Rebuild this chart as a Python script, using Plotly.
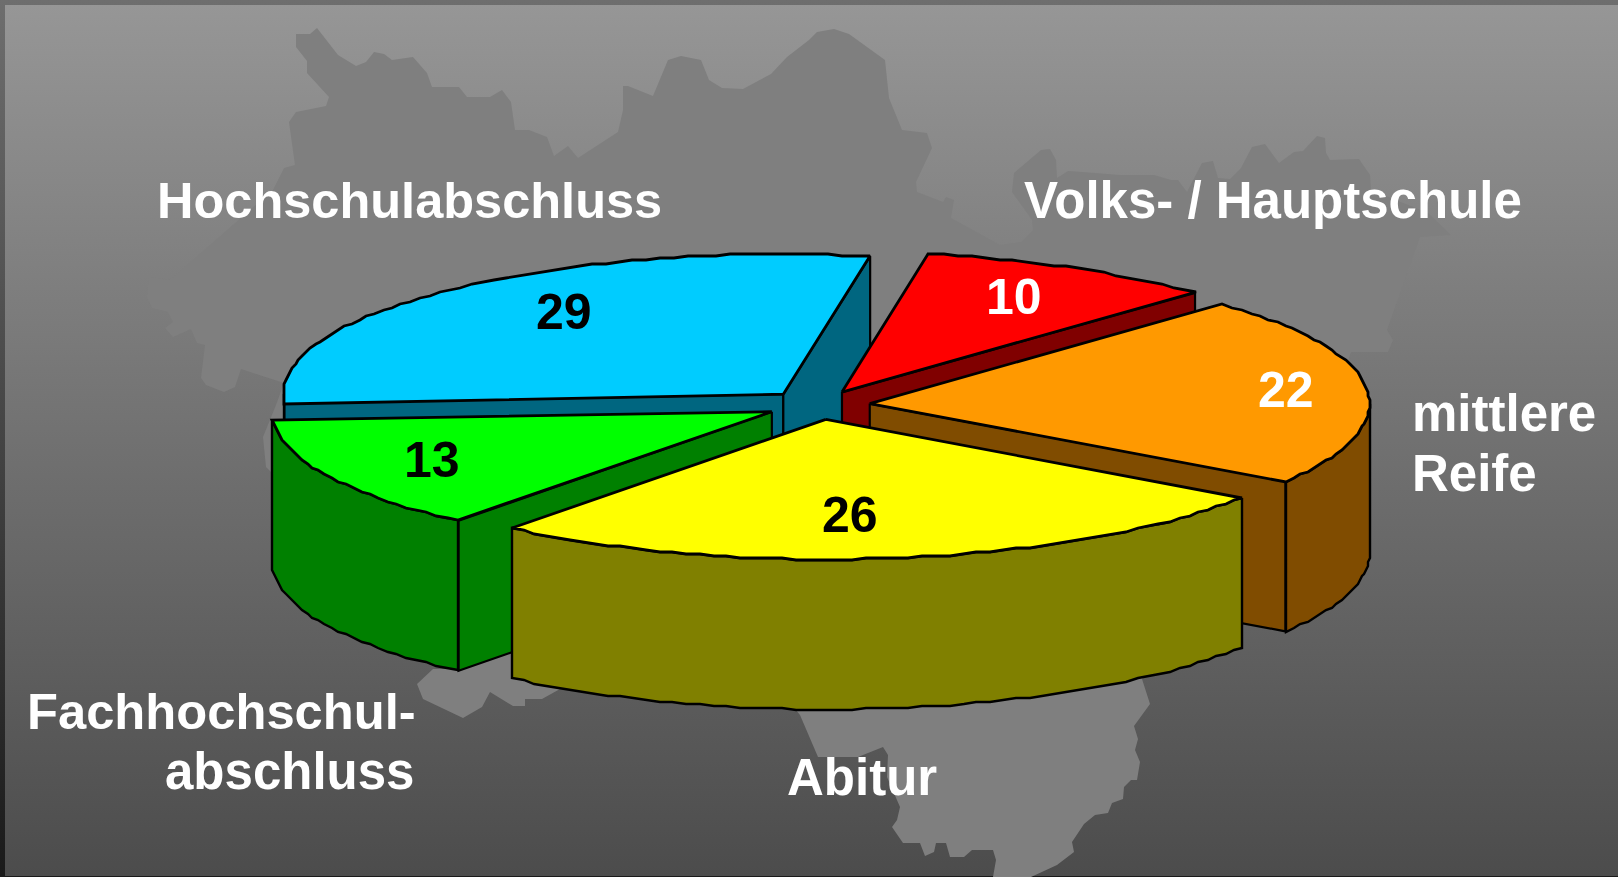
import math
import plotly.graph_objects as go

# ---- data -------------------------------------------------------------
categories = ["Volks- / Hauptschule", "mittlere Reife", "Abitur", "Fachhochschulabschluss", "Hochschulabschluss"]
value_labels = [10, 22, 26, 13, 29]
# slice shares (they round to the printed labels)
shares = [9.7, 21.9, 26.4, 13.2, 28.8]
top_colors = ["#FF0000", "#FF9900", "#FFFF00", "#00FF00", "#00CCFF"]
wall_colors = ["#800000", "#804C00", "#808000", "#008000", "#006680"]
value_colors = ["white", "white", "black", "black", "black"]

# ---- pie projection ---------------------------------------------------
W, H = 1618, 877
CX, CY, RX, RY, DEPTH = 818, 405, 500, 140, 150
EXPLODE = 0.104
START_DEG = -80
DRAW_ORDER = [4, 0, 1, 3, 2]
STEP = 2.0
VALUE_POS = [(1014, 297), (1286, 390), (850, 515), (432, 460), (564, 312)]

# ---- backdrop outline (decorative map silhouette) ----------------------
map_x = [317,338,356,366,374,384,392,413,427,432,459,467,490,502,511,515,529,547,554,568,578,618,623,623,628,653,668,681,701,709,722,743,771,787,809,817,834,849,885,889,902,927,932,916,917,943,946,954,951,986,1000,1021,1033,1032,1012,1014,1041,1050,1056,1057,1068,1082,1120,1154,1171,1178,1187,1202,1213,1218,1230,1241,1252,1265,1279,1294,1303,1317,1325,1326,1330,1359,1370,1371,1428,1451,1420,1387,1393,1388,1351,1300,1142,1150,1134,1138,1135,1140,1137,1131,1124,1123,1112,1108,1095,1084,1072,1074,1057,1031,993,996,993,972,964,950,946,936,934,925,920,903,892,897,900,887,888,883,858,818,800,780,560,542,525,525,513,490,482,463,423,417,433,454,400,266,263,276,284,241,235,224,206,201,205,197,191,173,165,173,168,152,147,149,170,273,284,295,289,296,326,329,307,307,296,296,310]
map_y = [28,55,66,62,52,54,60,57,73,87,87,97,97,90,102,130,130,137,156,146,158,132,110,86,86,96,60,56,60,80,88,89,74,57,40,32,29,34,60,98,130,133,148,182,192,202,197,200,218,237,245,242,230,220,192,173,150,149,160,178,171,172,175,175,180,180,192,163,161,178,179,168,147,144,163,152,151,136,138,153,160,159,175,190,213,235,237,330,340,352,352,500,679,704,726,739,750,762,780,780,787,799,803,813,815,824,842,852,865,877,877,860,850,850,857,857,843,843,852,856,843,843,827,820,807,777,755,747,757,757,715,690,689,699,699,706,706,692,707,718,699,684,669,669,600,467,437,405,383,369,387,392,385,378,345,343,329,337,328,322,312,308,297,277,280,190,168,165,122,112,106,97,73,61,47,34,34]

# ---- text --------------------------------------------------------------
outer_labels = ["Hochschulabschluss", "Volks- / Hauptschule", "mittlere", "Reife", "Fachhochschul-", "abschluss", "Abitur"]
outer_sizes = [50.5, 51, 51, 51, 50.7, 51, 51]
outer_pos = [(155, 200, "left"), (1022, 200, "left"), (1410, 413, "left"), (1410, 473, "left"),
             (25, 711, "left"), (416, 771, "right"), (785, 777, "left")]


def snap(v):
    return round(v / STEP) * STEP


def ell(cx, cy, t, dz=0.0):
    x = cx + RX * math.cos(t)
    y = cy + RY * math.sin(t)
    return snap(x), snap(y) + dz


fig = go.Figure()


def backdrop(x0, y0, x1, y1, low, high):
    fig.add_trace(go.Scatter(x=[x0, x1, x1, x0, x0], y=[y0, y0, y1, y1, y0], mode="lines", fill="toself",
                             line=dict(width=0), hoverinfo="skip", showlegend=False,
                             fillgradient=dict(type="vertical", colorscale=[[0, low], [1, high]])))


backdrop(0, 0, W, H, "#1a1a1a", "#6e6e6e")
backdrop(5, 5, W, H - 1, "#4c4c4c", "#969696")
fig.add_trace(go.Scatter(x=map_x + map_x[:1], y=map_y + map_y[:1], mode="lines", fill="toself",
                         fillcolor="#7f7f7f", line=dict(width=0), hoverinfo="skip", showlegend=False))


def poly(xs, ys, color, name, lw):
    fig.add_trace(go.Scatter(x=xs + xs[:1], y=ys + ys[:1], mode="lines", fill="toself", fillcolor=color,
                             line=dict(color="black", width=lw), name=name,
                             hoverinfo="skip", showlegend=False))


# slices from the shares
total = sum(shares)
angles = [math.radians(START_DEG)]
for v in shares:
    angles.append(angles[-1] + 2 * math.pi * v / total)

for i in DRAW_ORDER:
    t1, t2 = angles[i], angles[i + 1]
    mid = (t1 + t2) / 2
    ax = CX + EXPLODE * RX * math.cos(mid)
    ay = CY + EXPLODE * RY * math.sin(mid)
    wall, top, name = wall_colors[i], top_colors[i], categories[i]

    n = max(6, int(abs(t2 - t1) / math.radians(1.6)))
    ts = [t1 + (t2 - t1) * k / n for k in range(n + 1)]

    # radial walls that face the viewer
    for t, visible in ((t1, math.cos(t1) < 0), (t2, math.cos(t2) > 0)):
        if visible:
            ex, ey = ax + RX * math.cos(t), ay + RY * math.sin(t)
            poly([ax, ex, ex, ax], [ay, ey, ey + DEPTH, ay + DEPTH], wall, name, 2.2)

    # outer rim: the part of the arc on the front of the ellipse
    lo, hi = max(t1, 0.0), min(t2, math.pi)
    if hi > lo:
        front = [lo] + [t for t in ts if lo < t < hi] + [hi]
        up = [ell(ax, ay, t) for t in front]
        dn = [ell(ax, ay, t, DEPTH) for t in reversed(front)]
        poly([p[0] for p in up] + [p[0] for p in dn], [p[1] for p in up] + [p[1] for p in dn], wall, name, 2.4)

    # top face
    pts = [ell(ax, ay, t) for t in ts]
    poly([ax] + [p[0] for p in pts], [ay] + [p[1] for p in pts], top, name, 2.8)

annotations = []
for lab, size, (x, y, anc) in zip(outer_labels, outer_sizes, outer_pos):
    annotations.append(dict(x=x, y=y, text="<b>" + lab + "</b>", showarrow=False, xanchor=anc, yanchor="middle",
                            font=dict(family="Liberation Sans", size=size, color="white")))
for v, (x, y), c in zip(value_labels, VALUE_POS, value_colors):
    annotations.append(dict(x=x, y=y, text="<b>" + str(v) + "</b>", showarrow=False, xanchor="center", yanchor="middle",
                            font=dict(family="Liberation Sans", size=50, color=c)))

fig.update_layout(width=W, height=H, margin=dict(l=0, r=0, t=0, b=0), paper_bgcolor="#6e6e6e",
                  plot_bgcolor="#6e6e6e", showlegend=False, annotations=annotations,
                  xaxis=dict(range=[0, W], visible=False, fixedrange=True),
                  yaxis=dict(range=[H, 0], visible=False, fixedrange=True))

fig.write_html("out.html", config=dict(displayModeBar=False),
               post_script="document.body.style.margin='0';document.documentElement.style.overflow='hidden';")
